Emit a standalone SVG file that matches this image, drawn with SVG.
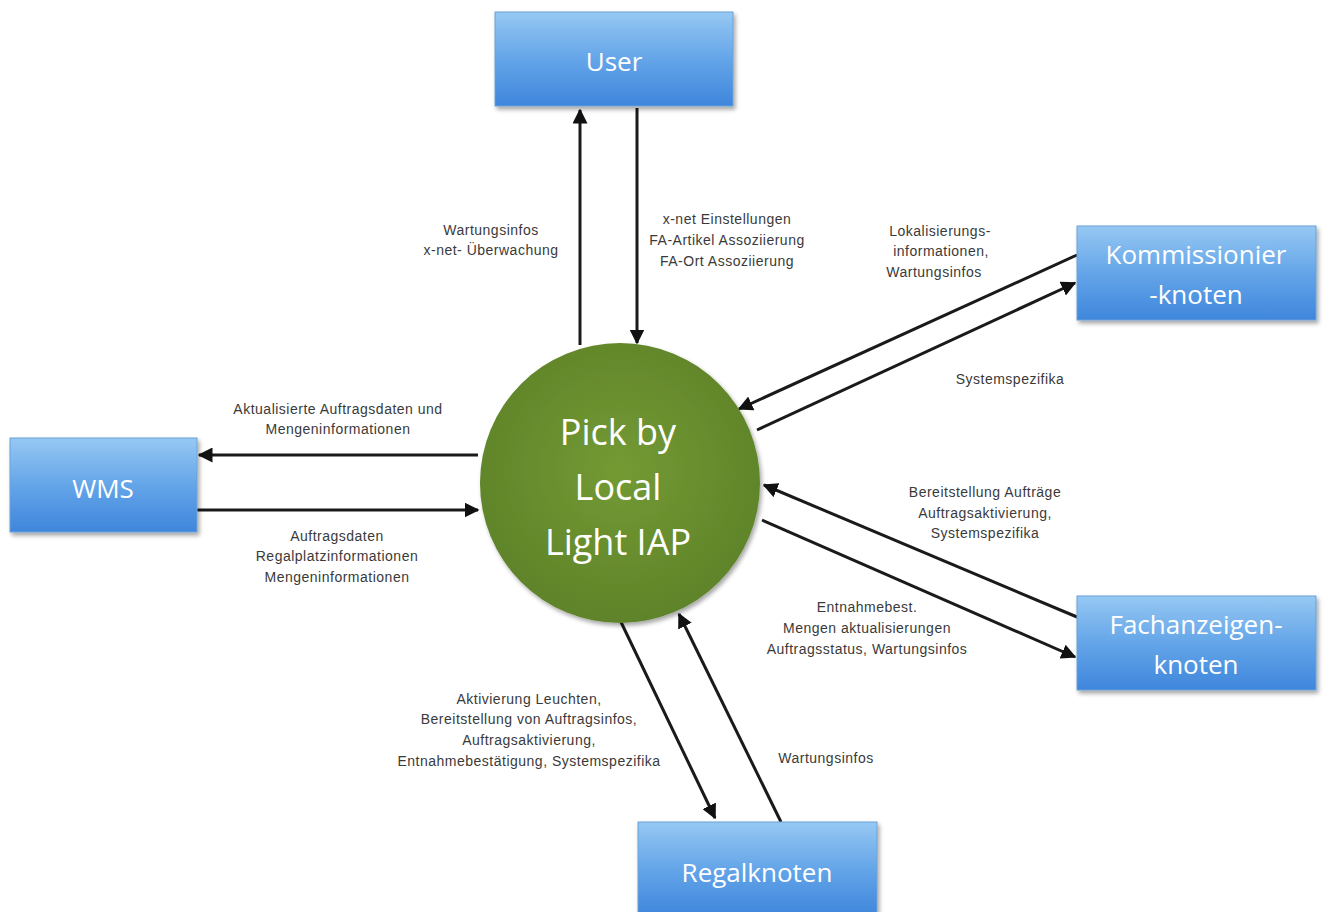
<svg xmlns="http://www.w3.org/2000/svg" width="1324" height="912" viewBox="0 0 1324 912">
<defs>
<linearGradient id="bg" x1="0" y1="0" x2="0" y2="1">
<stop offset="0" stop-color="#96c8f3"/>
<stop offset="0.5" stop-color="#64a5e8"/>
<stop offset="1" stop-color="#3f86dc"/>
</linearGradient>
<radialGradient id="cg" cx="0.5" cy="0.45" r="0.55">
<stop offset="0" stop-color="#739a33"/>
<stop offset="1" stop-color="#5f832a"/>
</radialGradient>
<filter id="sh" x="-10%" y="-10%" width="130%" height="130%">
<feDropShadow dx="2" dy="3" stdDeviation="2" flood-color="#000" flood-opacity="0.35"/>
</filter>
<marker id="ah" viewBox="0 0 10 10" refX="9" refY="5" markerWidth="5" markerHeight="5" orient="auto">
<path d="M0,0 L10,5 L0,10 z" fill="#111"/>
</marker>
</defs>
<style>
.box{fill:url(#bg);stroke:#6aa0d8;stroke-width:1;filter:url(#sh)}
.bt{font-family:"Open Sans","Liberation Sans",sans-serif;font-size:26px;fill:#fff;text-anchor:middle}
.ct{font-family:"Open Sans","Liberation Sans",sans-serif;font-size:36px;fill:#fff;text-anchor:middle}
.lb{font-family:"Liberation Sans",sans-serif;font-size:14px;letter-spacing:0.5px;fill:#3a3a3a;text-anchor:middle}
.cn{stroke:#1a1a1a;stroke-width:3;fill:none;marker-end:url(#ah)}
</style>
<rect width="1324" height="912" fill="#fff"/>
<g id="connectors">
<line class="cn" x1="580" y1="345" x2="580" y2="110"/>
<line class="cn" x1="637" y1="108" x2="637" y2="343"/>
<line class="cn" x1="1077" y1="255" x2="739" y2="409"/>
<line class="cn" x1="757" y1="430" x2="1075" y2="283"/>
<line class="cn" x1="478" y1="455" x2="199" y2="455"/>
<line class="cn" x1="197" y1="510" x2="478" y2="510"/>
<line class="cn" x1="1077" y1="617" x2="764" y2="485"/>
<line class="cn" x1="762" y1="520" x2="1075" y2="657"/>
<line class="cn" x1="620" y1="620" x2="715" y2="818"/>
<line class="cn" x1="781" y1="822" x2="679" y2="614"/>
</g>
<g id="labels">
<text class="lb" x="491" y="235">Wartungsinfos</text>
<text class="lb" x="491" y="255">x-net- Überwachung</text>
<text class="lb" x="727" y="224">x-net Einstellungen</text>
<text class="lb" x="727" y="245">FA-Artikel Assoziierung</text>
<text class="lb" x="727" y="266">FA-Ort Assoziierung</text>
<text class="lb" x="940" y="236">Lokalisierungs-</text>
<text class="lb" x="941" y="256">informationen,</text>
<text class="lb" x="934" y="277">Wartungsinfos</text>
<text class="lb" x="1010" y="384">Systemspezifika</text>
<text class="lb" x="338" y="414">Aktualisierte Auftragsdaten und</text>
<text class="lb" x="338" y="434">Mengeninformationen</text>
<text class="lb" x="337" y="541">Auftragsdaten</text>
<text class="lb" x="337" y="561">Regalplatzinformationen</text>
<text class="lb" x="337" y="582">Mengeninformationen</text>
<text class="lb" x="985" y="497">Bereitstellung Aufträge</text>
<text class="lb" x="985" y="518">Auftragsaktivierung,</text>
<text class="lb" x="985" y="538">Systemspezifika</text>
<text class="lb" x="867" y="612">Entnahmebest.</text>
<text class="lb" x="867" y="633">Mengen aktualisierungen</text>
<text class="lb" x="867" y="654">Auftragsstatus, Wartungsinfos</text>
<text class="lb" x="529" y="704">Aktivierung Leuchten,</text>
<text class="lb" x="529" y="724">Bereitstellung von Auftragsinfos,</text>
<text class="lb" x="529" y="745">Auftragsaktivierung,</text>
<text class="lb" x="529" y="766">Entnahmebestätigung, Systemspezifika</text>
<text class="lb" x="826" y="763">Wartungsinfos</text>
</g>
<g id="user">
<rect class="box" x="495" y="12" width="238" height="94"/>
<text class="bt" x="614" y="71">User</text>
</g>
<g id="kommissionier">
<rect class="box" x="1077" y="226" width="239" height="94"/>
<text class="bt" x="1196" y="264">Kommissionier</text>
<text class="bt" x="1196" y="304">-knoten</text>
</g>
<g id="wms">
<rect class="box" x="10" y="438" width="187" height="94"/>
<text class="bt" x="103" y="498">WMS</text>
</g>
<g id="fachanzeigen">
<rect class="box" x="1077" y="596" width="239" height="94"/>
<text class="bt" x="1196" y="634">Fachanzeigen-</text>
<text class="bt" x="1196" y="674">knoten</text>
</g>
<g id="regal">
<rect class="box" x="638" y="822" width="239" height="94"/>
<text class="bt" x="757" y="882">Regalknoten</text>
</g>
<g id="center">
<circle cx="620" cy="483" r="140" fill="url(#cg)" filter="url(#sh)"/>
<text class="ct" x="618" y="445">Pick by</text>
<text class="ct" x="618" y="500">Local</text>
<text class="ct" x="618" y="555">Light IAP</text>
</g>
</svg>
